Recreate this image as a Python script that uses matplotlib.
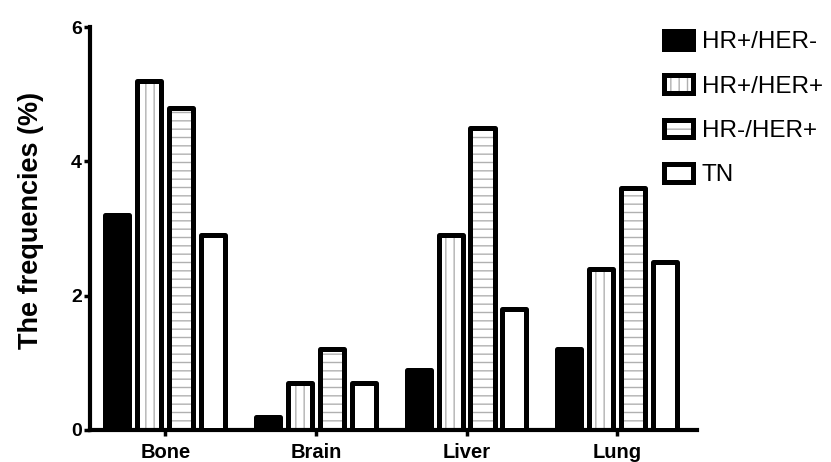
import matplotlib
matplotlib.use("Agg")
import matplotlib.pyplot as plt
from matplotlib.patches import Rectangle
import numpy as np

categories = ["Bone", "Brain", "Liver", "Lung"]
series_names = ["HR+/HER-", "HR+/HER+", "HR-/HER+", "TN"]
hr_pos_her_neg = [3.2, 0.2, 0.9, 1.2]
hr_pos_her_pos = [5.2, 0.7, 2.9, 2.4]
hr_neg_her_pos = [4.8, 1.2, 4.5, 3.6]
tn = [2.9, 0.7, 1.8, 2.5]
yticks = [0, 2, 4, 6]

series = [hr_pos_her_neg, hr_pos_her_pos, hr_neg_her_pos, tn]
faces = ["black", "white", "white", "white"]
hatches = [None, "||", "--", None]

plt.rcParams['font.family'] = ['Liberation Sans', 'DejaVu Sans']
plt.rcParams['hatch.linewidth'] = 1.0

fig = plt.figure(figsize=(8.31, 4.62), dpi=100)
ax = fig.add_axes([90/831, 1-430/462, (697-90)/831, (430-27)/462])

x = np.arange(len(categories))
pitch = 0.212
width = 0.16
lw = 3.6
for i, vals in enumerate(series):
    pos = x + (i - 1.5) * pitch
    if hatches[i]:
        ax.bar(pos, vals, width, color=faces[i], edgecolor="#b0b0b0",
               hatch=hatches[i], linewidth=0, zorder=2)
    ax.bar(pos, vals, width, color=faces[i] if not hatches[i] else "none",
           edgecolor="black", linewidth=lw, joinstyle="round", zorder=3)

ax.set_xlim(-0.5, 3.53)
ax.set_ylim(0, 6)
ax.set_yticks(yticks)
ax.set_yticklabels([str(t) for t in yticks], fontsize=14, fontweight="bold")
ax.set_xticks(x)
ax.set_xticklabels(categories, fontsize=14.5, fontweight="bold")
ax.tick_params(axis="both", width=2.5, length=4, pad=2)
ax.tick_params(axis="x", pad=5)
for s in ["top", "right"]:
    ax.spines[s].set_visible(False)
for s in ["left", "bottom"]:
    ax.spines[s].set_linewidth(3)
ax.set_ylabel("The frequencies (%)", fontsize=19.5, fontweight="bold")
ax.yaxis.set_label_coords((44-90)/607, 0.52)

handles = []
for i in range(4):
    if hatches[i]:
        h1 = Rectangle((0, 0), 1, 1, facecolor=faces[i], edgecolor="#b0b0b0",
                       hatch=hatches[i], linewidth=0)
        h2 = Rectangle((0, 0), 1, 1, facecolor="none", edgecolor="black",
                       linewidth=lw, joinstyle="round")
        handles.append((h1, h2))
    else:
        handles.append(Rectangle((0, 0), 1, 1, facecolor=faces[i], edgecolor="black",
                                 linewidth=lw, joinstyle="round"))

fig.legend(handles, series_names, loc="upper left",
           bbox_to_anchor=(664/831, 1-31/462), frameon=False,
           fontsize=17.5, handlelength=1.2, handleheight=0.75,
           labelspacing=0.9, handletextpad=0.35, borderpad=0,
           borderaxespad=0)

fig.savefig("out.png", dpi=100)
